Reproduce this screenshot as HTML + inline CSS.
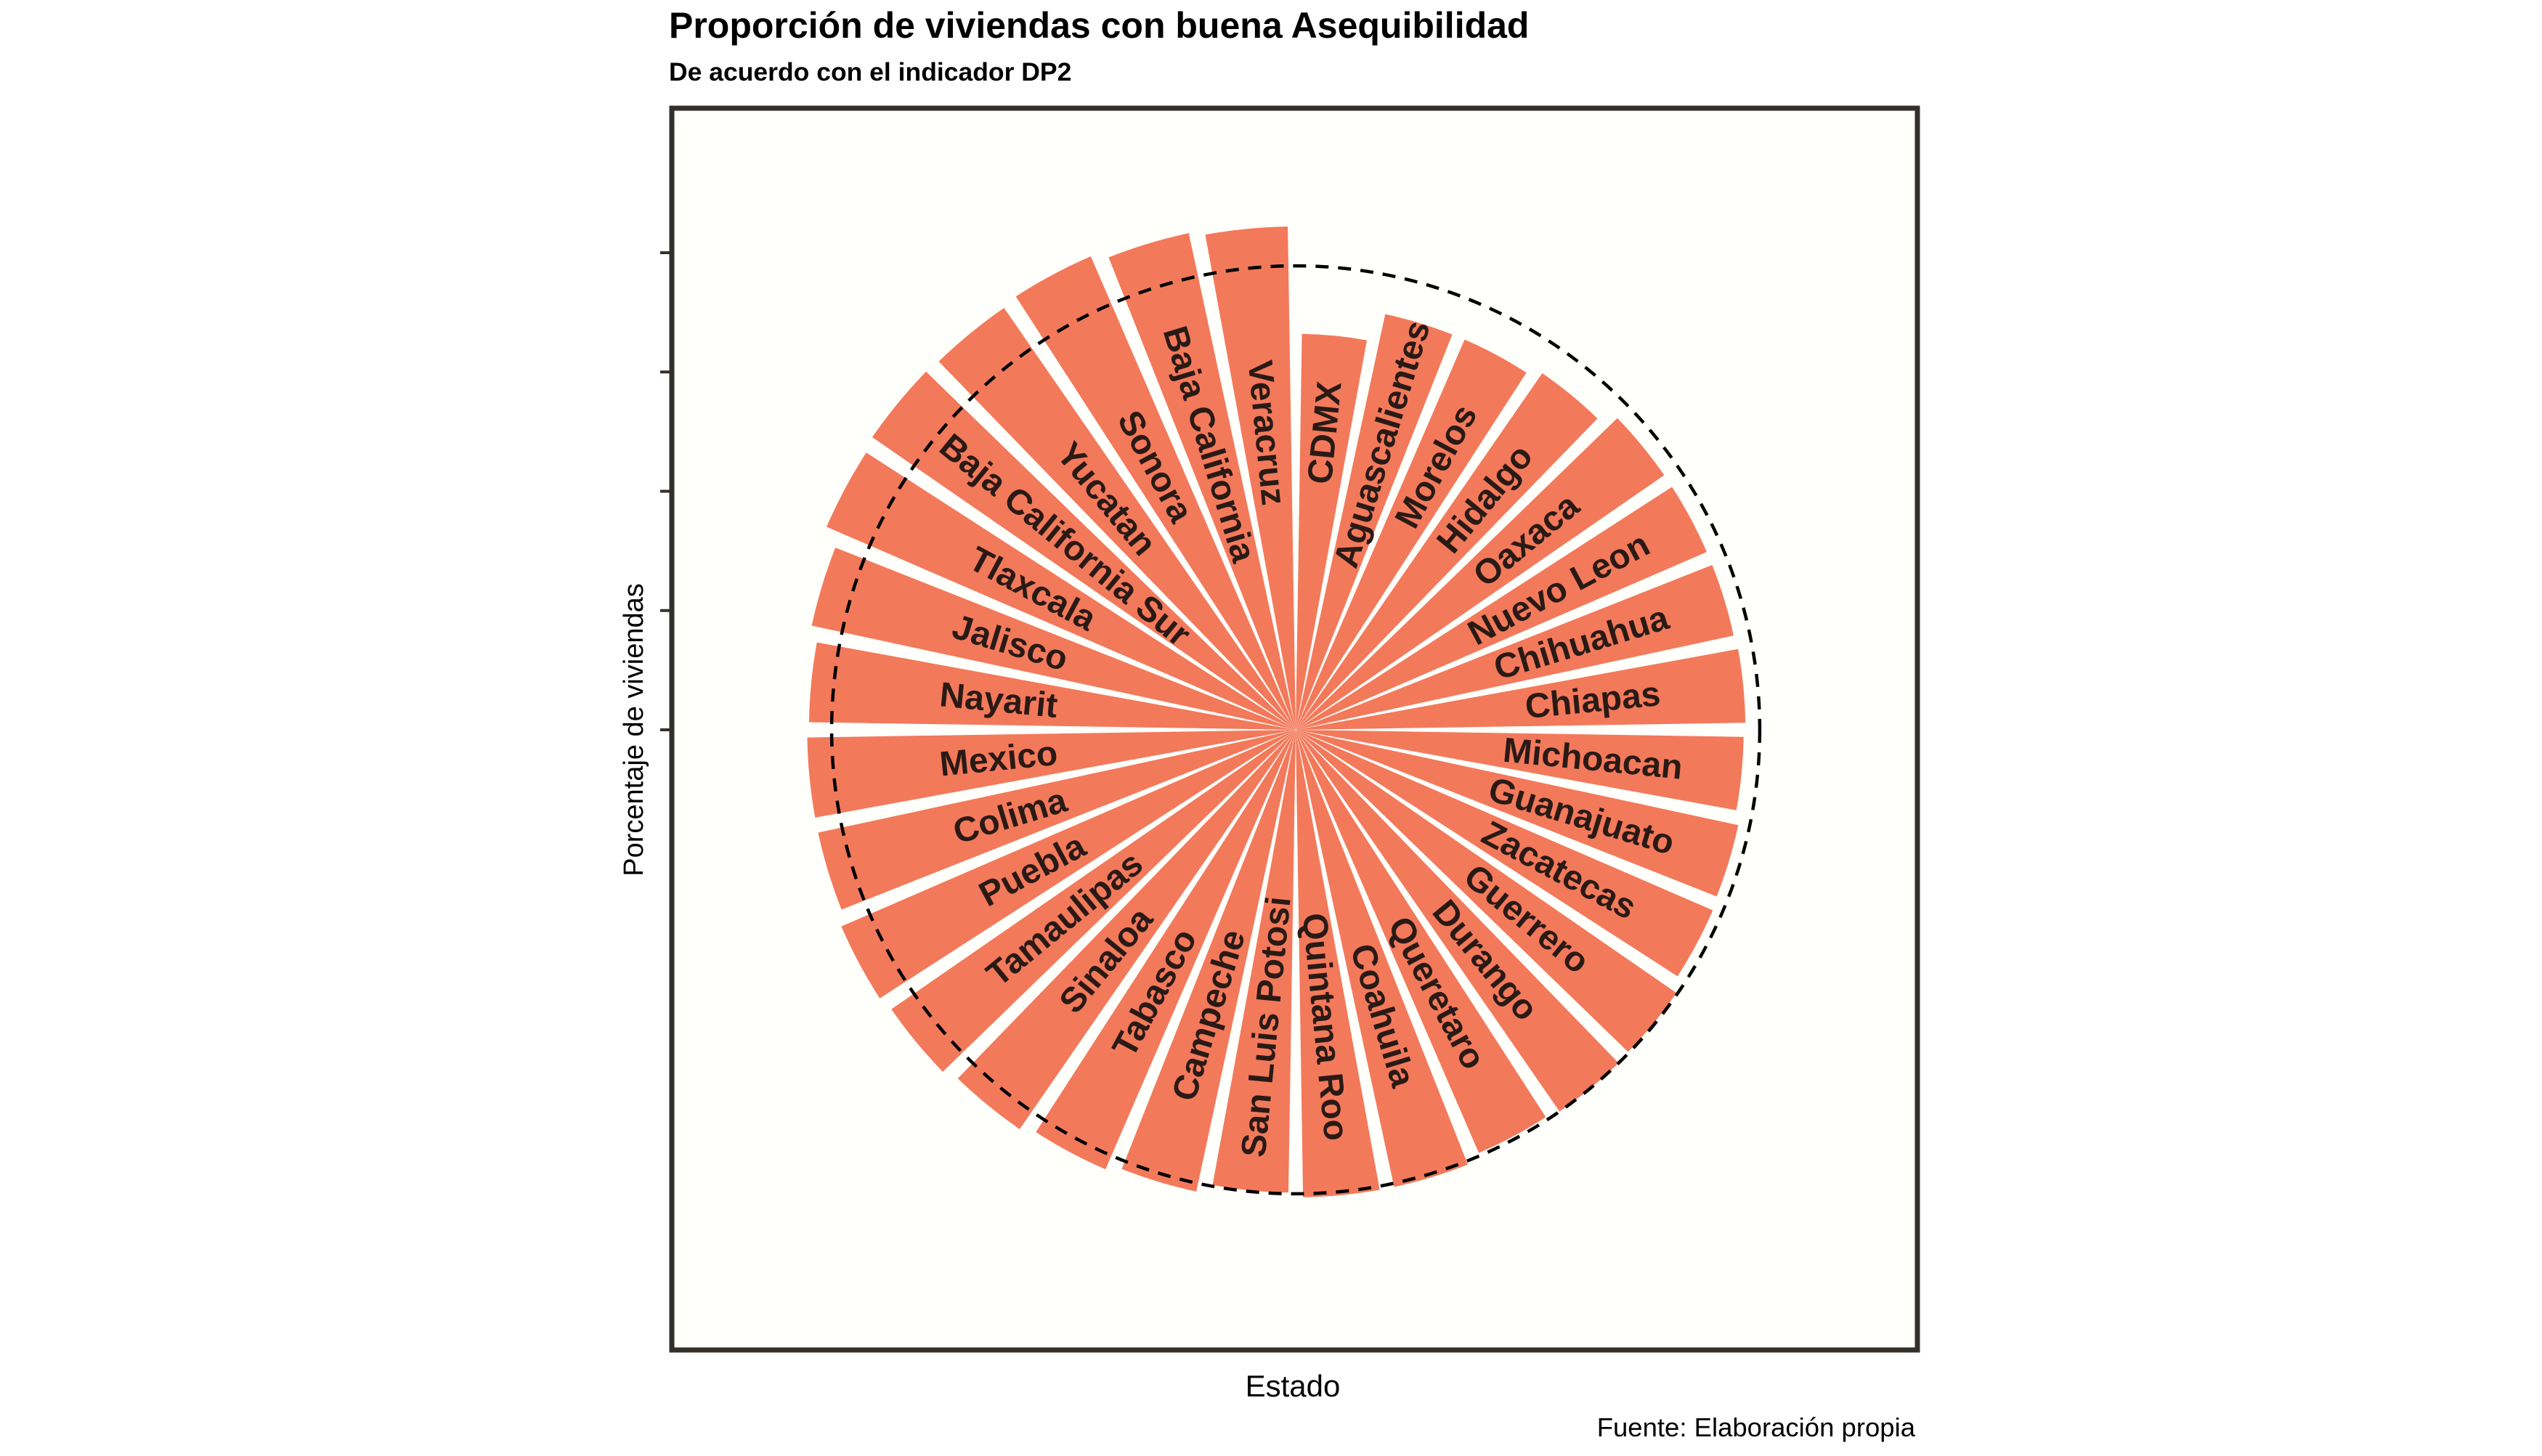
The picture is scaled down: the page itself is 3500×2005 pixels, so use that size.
<!DOCTYPE html>
<html><head><meta charset="utf-8">
<style>
html,body{margin:0;padding:0;background:#fff;}
body{width:3500px;height:2000px;overflow:hidden;font-family:"Liberation Sans",sans-serif;}
</style></head>
<body>
<svg id="chart" width="3500" height="2000" xmlns="http://www.w3.org/2000/svg">
  <rect x="0" y="0" width="3500" height="2000" fill="#ffffff"/>
  <text x="921" y="52" font-family="Liberation Sans, sans-serif" font-weight="bold" font-size="50" fill="#000">Proporción de viviendas con buena Asequibilidad</text>
  <text x="921" y="111" font-family="Liberation Sans, sans-serif" font-weight="bold" font-size="35.5" fill="#000">De acuerdo con el indicador DP2</text>
  <rect x="925" y="149" width="1715" height="1710" fill="#fffffb" stroke="#33302b" stroke-width="7"/>
  <g id="ticks"></g>
  <g id="bars"></g>
  <g id="mean"></g>
  <g id="labels"></g>
  <text transform="translate(885,1005) rotate(-90)" text-anchor="middle" font-family="Liberation Sans, sans-serif" font-size="38" fill="#000">Porcentaje de viviendas</text>
  <text x="1780" y="1923" text-anchor="middle" font-family="Liberation Sans, sans-serif" font-size="42" fill="#000">Estado</text>
  <text x="2637" y="1978" text-anchor="end" font-family="Liberation Sans, sans-serif" font-size="36.5" fill="#000">Fuente: Elaboración propia</text>
</svg>
<script>
const states = ["CDMX","Aguascalientes","Morelos","Hidalgo","Oaxaca","Nuevo Leon","Chihuahua","Chiapas","Michoacan","Guanajuato","Zacatecas","Guerrero","Durango","Queretaro","Coahuila","Quintana Roo","San Luis Potosi","Campeche","Tabasco","Sinaloa","Tamaulipas","Puebla","Colima","Mexico","Nayarit","Jalisco","Tlaxcala","Baja California Sur","Yucatan","Sonora","Baja California","Veracruz"];
const values = [66.4,71.3,71.3,72.7,75.1,75.1,75.1,75.4,75.1,75.9,76.2,77.6,77.8,77.3,78.4,78.4,77.6,79.2,80.3,81.4,82.4,83.0,81.9,81.9,81.6,83.0,85.7,86.3,86.0,86.5,85.2,84.4];
const yTicks = [0,20,40,60,80];
const meanValue = 77.8;

const NS="http://www.w3.org/2000/svg";
const cx=1784, cy=1005;
const pxPerUnit = 657/80;
function rScale(v){return v*pxPerUnit;}
const n = states.length;
const step = 360/n;
function pt(angDeg, r){const a=angDeg*Math.PI/180;return [cx+r*Math.sin(a), cy-r*Math.cos(a)];}

const gT=document.getElementById('ticks');
yTicks.forEach(t=>{
  const y=cy-rScale(t);
  const l=document.createElementNS(NS,'line');
  l.setAttribute('x1',909);l.setAttribute('x2',922);
  l.setAttribute('y1',y);l.setAttribute('y2',y);
  l.setAttribute('stroke','#33302b');l.setAttribute('stroke-width',4);
  
  
  gT.appendChild(l);
});

const gB=document.getElementById('bars');
const gL=document.getElementById('labels');
states.forEach((s,i)=>{
  const center=(i+0.5)*step, half=0.42*step;
  const a0=center-half, a1=center+half;
  const r=rScale(values[i]);
  const p0=pt(a0,r), p1=pt(a1,r);
  const p=document.createElementNS(NS,'path');
  p.setAttribute('d',`M${cx},${cy} L${p0[0]},${p0[1]} A${r},${r} 0 0 1 ${p1[0]},${p1[1]} Z`);
  p.setAttribute('fill','#f3795b');
  
  
  gB.appendChild(p);
  const lp=pt(center,411);
  const rot = center<180 ? center-90 : center+90;
  const t=document.createElementNS(NS,'text');
  t.setAttribute('transform',`translate(${lp[0]},${lp[1]}) rotate(${rot})`);
  t.setAttribute('text-anchor','middle');
  t.setAttribute('dominant-baseline','central');
  t.setAttribute('font-family','Liberation Sans, sans-serif');
  t.setAttribute('font-weight','bold');
  t.setAttribute('font-size','48');
  t.setAttribute('fill','#2a1a15');
  t.textContent=s;
  
  
  gL.appendChild(t);
});

const c=document.createElementNS(NS,'circle');
c.setAttribute('cx',cx);c.setAttribute('cy',cy);c.setAttribute('r',rScale(meanValue));
c.setAttribute('fill','none');c.setAttribute('stroke','#000');c.setAttribute('stroke-width',4.5);
c.setAttribute('stroke-dasharray','18 13');


document.getElementById('mean').appendChild(c);
</script>
</body></html>
